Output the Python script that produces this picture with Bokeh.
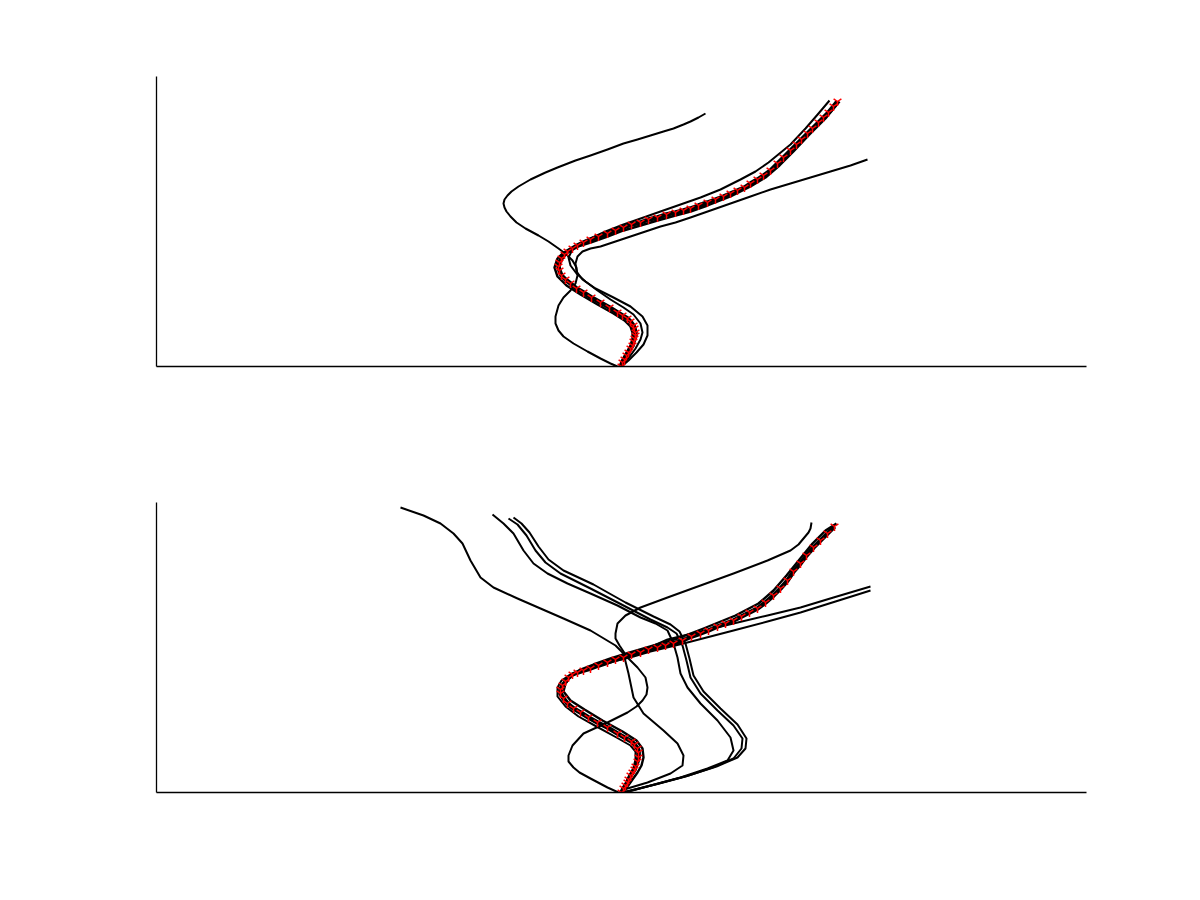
from bokeh.plotting import figure
from bokeh.layouts import column
from bokeh.models import Range1d, FixedTicker
from bokeh.embed import file_html
from bokeh.resources import INLINE

# ---------------- top panel ----------------
top_ref_x = [0.00, 0.01, 0.03, 0.05, 0.07, 0.09, 0.11, 0.12, 0.13, 0.14, 0.14, 0.13, 0.12, 0.09, 0.06, 0.01, -0.04, -0.12, -0.21, -0.30,
             -0.38, -0.45, -0.51, -0.56, -0.60, -0.62, -0.63, -0.62, -0.60, -0.57, -0.54, -0.49, -0.44, -0.38, -0.31, -0.23, -0.14, -0.06, 0.02, 0.10,
             0.19, 0.27, 0.36, 0.45, 0.54, 0.62, 0.69, 0.77, 0.86, 0.94, 1.02, 1.09, 1.16, 1.23, 1.29, 1.36, 1.42, 1.49, 1.56, 1.62,
             1.69, 1.75, 1.80, 1.86, 1.91, 1.97, 2.02, 2.07, 2.12, 2.16]
top_ref_y = [0.00, 0.04, 0.07, 0.11, 0.14, 0.18, 0.21, 0.25, 0.28, 0.31, 0.34, 0.38, 0.41, 0.45, 0.48, 0.51, 0.54, 0.59, 0.64, 0.69,
             0.74, 0.78, 0.83, 0.87, 0.91, 0.96, 1.00, 1.04, 1.08, 1.12, 1.15, 1.18, 1.21, 1.24, 1.27, 1.30, 1.33, 1.36, 1.39, 1.42,
             1.44, 1.47, 1.49, 1.52, 1.54, 1.56, 1.58, 1.61, 1.64, 1.67, 1.70, 1.73, 1.76, 1.79, 1.83, 1.87, 1.91, 1.96, 2.03, 2.09,
             2.16, 2.22, 2.27, 2.33, 2.38, 2.44, 2.49, 2.54, 2.60, 2.65]

top_k1_x = [-0.02, 0.01, 0.05, 0.09, 0.11, 0.11, 0.09, 0.03, -0.08, -0.24, -0.41, -0.55, -0.64, -0.67, -0.64, -0.58, -0.47, -0.31, -0.14, 0.02,
            0.19, 0.36, 0.54, 0.69, 0.86, 1.09, 1.29, 1.44, 1.58, 1.72, 1.88, 2.04, 2.18]
top_k1_y = [0.00, 0.07, 0.14, 0.21, 0.28, 0.34, 0.40, 0.46, 0.53, 0.62, 0.72, 0.81, 0.90, 0.99, 1.08, 1.14, 1.19, 1.24, 1.30, 1.36,
            1.41, 1.46, 1.51, 1.55, 1.61, 1.70, 1.80, 1.89, 2.01, 2.15, 2.32, 2.48, 2.65]

top_up_x = [0.00, 0.04, 0.09, 0.14, 0.19, 0.21, 0.19, 0.12, 0.02, -0.11, -0.24, -0.36, -0.45, -0.51, -0.53, -0.49, -0.41, -0.29, -0.16, 0.02,
            0.22, 0.39, 0.59, 0.79, 0.99, 1.19, 1.34, 1.47, 1.58, 1.69, 1.84, 1.97, 2.08]
top_up_y = [0.00, 0.05, 0.11, 0.18, 0.27, 0.34, 0.43, 0.52, 0.59, 0.67, 0.76, 0.85, 0.93, 1.01, 1.09, 1.17, 1.23, 1.29, 1.35, 1.42,
            1.49, 1.55, 1.62, 1.69, 1.77, 1.87, 1.95, 2.04, 2.13, 2.22, 2.38, 2.53, 2.66]

top_branch_x = [0.00, 0.07, 0.15, 0.22, 0.26, 0.26, 0.21, 0.09, -0.08, -0.26, -0.39, -0.45, -0.46, -0.44, -0.39, -0.31, -0.21, -0.06, 0.09, 0.24,
                0.39, 0.54, 0.69, 0.89, 1.09, 1.29, 1.49, 1.69, 1.89, 2.09, 2.29, 2.46]
top_branch_y = [0.00, 0.06, 0.14, 0.22, 0.31, 0.41, 0.50, 0.60, 0.69, 0.78, 0.87, 0.95, 1.03, 1.10, 1.15, 1.18, 1.20, 1.25, 1.30, 1.35,
                1.40, 1.44, 1.49, 1.56, 1.63, 1.70, 1.77, 1.83, 1.89, 1.95, 2.01, 2.07]

top_loop_x = [-0.04, -0.11, -0.21, -0.34, -0.48, -0.58, -0.63, -0.66, -0.66, -0.63, -0.58, -0.51, -0.46, -0.44, -0.45, -0.49, -0.55, -0.63, -0.73, -0.83,
              -0.96, -1.05, -1.11, -1.15, -1.17, -1.18, -1.17, -1.14, -1.10, -1.03, -0.91, -0.76, -0.64, -0.46, -0.31, -0.14, 0.02, 0.16, 0.29, 0.42,
              0.52, 0.62, 0.69, 0.77, 0.84]
top_loop_y = [0.00, 0.03, 0.08, 0.15, 0.23, 0.30, 0.36, 0.43, 0.50, 0.61, 0.69, 0.76, 0.83, 0.91, 0.99, 1.06, 1.12, 1.18, 1.25, 1.31,
              1.38, 1.44, 1.50, 1.55, 1.59, 1.63, 1.67, 1.71, 1.75, 1.80, 1.87, 1.94, 1.99, 2.06, 2.11, 2.17, 2.23, 2.27, 2.31, 2.35,
              2.38, 2.42, 2.45, 2.49, 2.53]

# ---------------- bottom panel ----------------
bot_ref_x = [0.00, 0.02, 0.04, 0.06, 0.07, 0.09, 0.11, 0.13, 0.14, 0.16, 0.17, 0.17, 0.16, 0.13, 0.10, 0.03, -0.04, -0.14, -0.24, -0.33,
             -0.41, -0.48, -0.54, -0.58, -0.61, -0.61, -0.59, -0.56, -0.53, -0.49, -0.44, -0.38, -0.31, -0.23, -0.14, -0.06, 0.02, 0.10, 0.19, 0.27,
             0.36, 0.44, 0.52, 0.61, 0.70, 0.79, 0.87, 0.96, 1.04, 1.12, 1.20, 1.28, 1.36, 1.44, 1.52, 1.59, 1.66, 1.72, 1.79, 1.85,
             1.92, 1.99, 2.06, 2.13]
bot_ref_y = [0.00, 0.04, 0.07, 0.10, 0.13, 0.17, 0.20, 0.23, 0.26, 0.31, 0.35, 0.40, 0.44, 0.48, 0.51, 0.55, 0.59, 0.65, 0.70, 0.75,
             0.80, 0.84, 0.89, 0.94, 0.99, 1.03, 1.07, 1.11, 1.15, 1.18, 1.20, 1.22, 1.24, 1.27, 1.30, 1.33, 1.35, 1.38, 1.40, 1.43,
             1.45, 1.47, 1.49, 1.52, 1.56, 1.59, 1.62, 1.66, 1.69, 1.72, 1.76, 1.80, 1.84, 1.90, 1.97, 2.04, 2.12, 2.21, 2.29, 2.37,
             2.45, 2.52, 2.59, 2.66]

bot_k1_x = [0.00, 0.06, 0.11, 0.16, 0.20, 0.22, 0.21, 0.15, 0.01, -0.19, -0.37, -0.51, -0.58, -0.56, -0.50, -0.41, -0.28, -0.11, 0.05, 0.22,
            0.39, 0.56, 0.82, 1.14, 1.37, 1.52, 1.65, 1.78, 1.91, 2.04, 2.15]
bot_k1_y = [0.00, 0.06, 0.13, 0.20, 0.27, 0.35, 0.44, 0.52, 0.61, 0.72, 0.83, 0.92, 1.01, 1.09, 1.17, 1.23, 1.28, 1.34, 1.39, 1.44,
            1.49, 1.54, 1.64, 1.77, 1.89, 2.02, 2.17, 2.33, 2.49, 2.62, 2.69]

bot_long1_x = [0.00, 0.04, 0.08, 0.12, 0.15, 0.18, 0.18, 0.13, -0.01, -0.21, -0.39, -0.53, -0.60, -0.60, -0.55, -0.46, -0.33, -0.16, 0.01, 0.19,
               0.46, 0.79, 1.12, 1.46, 1.79, 2.12, 2.49]
bot_long1_y = [0.00, 0.06, 0.13, 0.20, 0.27, 0.35, 0.43, 0.50, 0.58, 0.69, 0.79, 0.89, 0.98, 1.06, 1.13, 1.19, 1.24, 1.30, 1.35, 1.41,
               1.53, 1.61, 1.69, 1.77, 1.85, 1.95, 2.06]

bot_long2_x = [-0.01, 0.02, 0.05, 0.09, 0.12, 0.14, 0.14, 0.09, -0.05, -0.25, -0.43, -0.56, -0.64, -0.64, -0.60, -0.51, -0.38, -0.21, -0.04, 0.12,
               0.29, 0.62, 1.12, 1.46, 1.79, 2.14, 2.49]
bot_long2_y = [0.00, 0.05, 0.11, 0.18, 0.25, 0.33, 0.41, 0.47, 0.55, 0.66, 0.76, 0.86, 0.96, 1.05, 1.12, 1.18, 1.22, 1.27, 1.32, 1.36,
               1.41, 1.49, 1.62, 1.71, 1.80, 1.91, 2.02]

bot_loop_x = [-0.03, -0.14, -0.31, -0.42, -0.48, -0.53, -0.53, -0.49, -0.38, -0.14, 0.06, 0.15, 0.21, 0.25, 0.26, 0.24, 0.16, 0.06, -0.02, -0.06,
              -0.06, -0.04, 0.04, 0.19, 0.46, 0.79, 1.12, 1.46, 1.69, 1.77, 1.82, 1.87, 1.89, 1.90]
bot_loop_y = [0.00, 0.05, 0.14, 0.20, 0.25, 0.31, 0.37, 0.47, 0.59, 0.70, 0.80, 0.86, 0.92, 0.98, 1.05, 1.15, 1.25, 1.35, 1.47, 1.54,
              1.59, 1.69, 1.77, 1.85, 1.95, 2.07, 2.19, 2.32, 2.42, 2.48, 2.54, 2.60, 2.64, 2.70]

bot_far_x = [-0.01, 0.06, 0.26, 0.49, 0.61, 0.62, 0.56, 0.42, 0.22, 0.12, 0.07, 0.02, -0.06, -0.16, -0.31, -0.58, -0.81, -1.04, -1.28, -1.41,
             -1.51, -1.59, -1.68, -1.81, -1.98, -2.21]
bot_far_y = [0.00, 0.04, 0.10, 0.19, 0.27, 0.37, 0.49, 0.62, 0.79, 0.95, 1.19, 1.39, 1.47, 1.53, 1.62, 1.74, 1.84, 1.94, 2.05, 2.15,
             2.32, 2.49, 2.59, 2.69, 2.77, 2.85]

bot_t1_x = [0.00, 0.06, 0.29, 0.59, 0.86, 1.06, 1.12, 1.09, 0.96, 0.79, 0.66, 0.59, 0.56, 0.52, 0.46, 0.34, 0.19, -0.04, -0.31, -0.54,
            -0.74, -0.88, -0.98, -1.08, -1.18, -1.29]
bot_t1_y = [0.00, 0.01, 0.07, 0.15, 0.24, 0.32, 0.42, 0.55, 0.72, 0.89, 1.05, 1.19, 1.35, 1.49, 1.62, 1.69, 1.75, 1.87, 1.99, 2.09,
            2.19, 2.29, 2.42, 2.59, 2.69, 2.78]

bot_t2_x = [0.01, 0.09, 0.34, 0.64, 0.91, 1.12, 1.20, 1.21, 1.12, 0.96, 0.79, 0.69, 0.65, 0.61, 0.55, 0.46, 0.29, 0.02, -0.31, -0.61,
            -0.76, -0.86, -0.95, -1.04, -1.13]
bot_t2_y = [0.00, 0.02, 0.08, 0.16, 0.25, 0.34, 0.44, 0.54, 0.67, 0.82, 0.99, 1.15, 1.32, 1.47, 1.59, 1.65, 1.73, 1.87, 2.04, 2.19,
            2.30, 2.42, 2.57, 2.68, 2.74]

bot_t3_x = [0.01, 0.11, 0.37, 0.67, 0.95, 1.16, 1.24, 1.25, 1.16, 0.99, 0.82, 0.72, 0.68, 0.64, 0.58, 0.49, 0.32, 0.04, -0.28, -0.58,
            -0.73, -0.83, -0.92, -1.00, -1.08]
bot_t3_y = [0.00, 0.02, 0.09, 0.17, 0.26, 0.35, 0.44, 0.54, 0.68, 0.84, 1.01, 1.17, 1.34, 1.49, 1.61, 1.68, 1.76, 1.90, 2.08, 2.22,
            2.33, 2.46, 2.60, 2.69, 2.75]

X_RANGE = (-4.65, 4.65)
Y_RANGE = (0.0, 2.9)


def make_panel(black_series, ref_x, ref_y):
    p = figure(width=1178, height=426,
               x_range=Range1d(*X_RANGE), y_range=Range1d(*Y_RANGE),
               output_backend="svg", toolbar_location=None,
               min_border_left=156, min_border_right=92,
               min_border_top=76, min_border_bottom=60)
    p.xgrid.visible = False
    p.ygrid.visible = False
    p.outline_line_color = None
    p.background_fill_color = "white"
    p.border_fill_color = "white"
    for ax in (p.xaxis, p.yaxis):
        ax.ticker = FixedTicker(ticks=[])
        ax.major_label_text_font_size = "0pt"
        ax.major_tick_line_color = None
        ax.minor_tick_line_color = None
        ax.axis_line_color = "black"
        ax.axis_line_width = 1.3
    for xs, ys, lw in black_series:
        p.line(xs, ys, line_color="black", line_width=lw, line_join="round")
    p.line(ref_x, ref_y, line_color="black", line_width=4.5, line_join="round")
    p.scatter(ref_x, ref_y, marker="y", size=9, line_color="red", line_width=1.5)
    return p


p1 = make_panel([
    (top_loop_x, top_loop_y, 2.0),
    (top_branch_x, top_branch_y, 2.0),
    (top_up_x, top_up_y, 2.0),
    (top_k1_x, top_k1_y, 2.4),
], top_ref_x, top_ref_y)

p2 = make_panel([
    (bot_far_x, bot_far_y, 2.0),
    (bot_loop_x, bot_loop_y, 2.0),
    (bot_t1_x, bot_t1_y, 2.0),
    (bot_t2_x, bot_t2_y, 2.0),
    (bot_t3_x, bot_t3_y, 2.0),
    (bot_long1_x, bot_long1_y, 2.0),
    (bot_long2_x, bot_long2_y, 2.0),
    (bot_k1_x, bot_k1_y, 2.4),
], bot_ref_x, bot_ref_y)

layout = column(p1, p2, spacing=0)
open("out.html", "w").write(file_html(layout, INLINE))
